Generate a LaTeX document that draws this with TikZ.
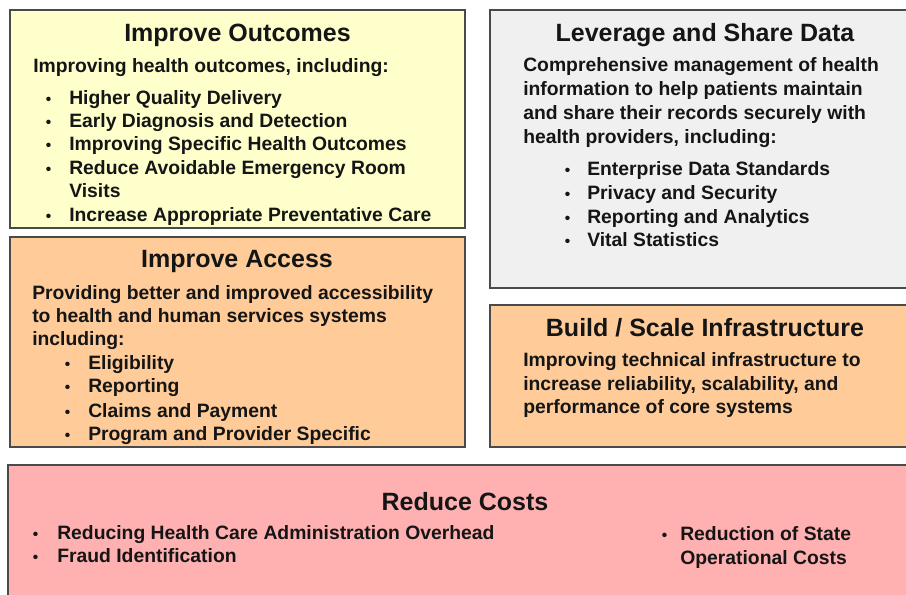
\documentclass[tikz,border=0pt]{standalone}
\usepackage{fontspec}
\setmainfont{Liberation Sans}
\definecolor{boxline}{HTML}{4A4A4A}
\definecolor{fillyellow}{HTML}{FFFFCC}
\definecolor{fillgray}{HTML}{F0F0F0}
\definecolor{fillpeach}{HTML}{FFCC99}
\definecolor{fillpink}{HTML}{FFB0B0}
\definecolor{textcol}{HTML}{151515}
\newcommand\blt[1]{\makebox[#1][l]{\hspace{0.5pt}\scalebox{0.8}{\textbullet}}}
\begin{document}
\begin{tikzpicture}[x=0.75pt,y=-0.75pt,
  box/.style={draw=boxline, line width=1.1pt},
  ttl/.style={font=\fontsize{18.75}{22}\selectfont\bfseries, anchor=base, inner sep=0pt, text=textcol},
  txt/.style={font=\fontsize{14.5}{17}\selectfont\bfseries, anchor=base west, inner sep=0pt, text=textcol}]
\clip (0,0) rectangle (906,594);
\fill[white] (0,0) rectangle (906,594);
% boxes
\draw[box, fill=fillyellow] (10,10) rectangle (465,228);
\draw[box, fill=fillgray] (490,10) rectangle (915,288);
\draw[box, fill=fillpeach] (10,237) rectangle (465,447);
\draw[box, fill=fillpeach] (490,305) rectangle (915,447);
\draw[box, fill=fillpink] (8,465) rectangle (915,600);
% Improve Outcomes
\node[ttl] (t1) at (237.5,41) {Improve Outcomes};
\node[txt] (o0) at (33,72) {Improving health outcomes, including:};
\node[txt] (o1) at (45,104) {\blt{18pt}Higher Quality Delivery};
\node[txt] (o2) at (45,127) {\blt{18pt}Early Diagnosis and Detection};
\node[txt] (o3) at (45,150) {\blt{18pt}Improving Specific Health Outcomes};
\node[txt] (o4) at (45,174) {\blt{18pt}Reduce Avoidable Emergency Room};
\node[txt] (o5) at (69,197) {Visits};
\node[txt] (o6) at (45,221) {\blt{18pt}Increase Appropriate Preventative Care};
% Leverage and Share Data
\node[ttl] (t2) at (705,41) {Leverage and Share Data};
\node[txt] (l1) at (523,71) {Comprehensive management of health};
\node[txt] (l2) at (523,95) {information to help patients maintain};
\node[txt] (l3) at (523,119) {and share their records securely with};
\node[txt] (l4) at (523,143) {health providers, including:};
\node[txt] (l5) at (564,175) {\blt{17.25pt}Enterprise Data Standards};
\node[txt] (l6) at (564,199) {\blt{17.25pt}Privacy and Security};
\node[txt] (l7) at (564,223) {\blt{17.25pt}Reporting and Analytics};
\node[txt] (l8) at (564,246) {\blt{17.25pt}Vital Statistics};
% Improve Access
\node[ttl] (t3) at (237,267) {Improve Access};
\node[txt] (a1) at (32,299) {Providing better and improved accessibility};
\node[txt] (a2) at (32,322) {to health and human services systems};
\node[txt] (a3) at (32,345) {including:};
\node[txt] (a4) at (64,369) {\blt{18pt}Eligibility};
\node[txt] (a5) at (64,392) {\blt{18pt}Reporting};
\node[txt] (a6) at (64,417) {\blt{18pt}Claims and Payment};
\node[txt] (a7) at (64,440) {\blt{18pt}Program and Provider Specific};
% Build / Scale Infrastructure
\node[ttl] (t4) at (705,336) {Build / Scale Infrastructure};
\node[txt] (b1) at (523,366) {Improving technical infrastructure to};
\node[txt] (b2) at (523,390) {increase reliability, scalability, and};
\node[txt] (b3) at (523,413) {performance of core systems};
% Reduce Costs
\node[ttl] (t5) at (465,510) {Reduce Costs};
\node[txt] (c1) at (32,539) {\blt{18.75pt}Reducing Health Care Administration Overhead};
\node[txt] (c2) at (32,562) {\blt{18.75pt}Fraud Identification};
\node[txt] (c3) at (661,540) {\blt{14.25pt}Reduction of State};
\node[txt] (c4) at (680,564) {Operational Costs};
\end{tikzpicture}
\end{document}
